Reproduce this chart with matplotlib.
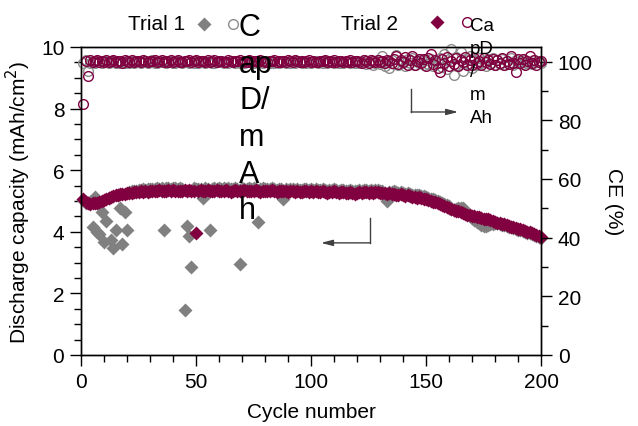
import numpy as np
import matplotlib
matplotlib.use("Agg")
import matplotlib.pyplot as plt
from matplotlib.lines import Line2D
from matplotlib.ticker import MultipleLocator

plt.rcParams['font.family'] = ['Liberation Sans', 'DejaVu Sans']

GREY = '#808080'
MAROON = '#800040'

cycles = np.arange(1, 201)

# Trial 1 discharge capacity (mAh/cm2)
cap_trial1 = [
    5.02, 4.95, 4.93, 4.97, 4.15, 5.12, 3.98, 3.93, 4.65, 3.66,
    4.34, 5.10, 3.74, 3.46, 4.06, 5.18, 4.77, 3.60, 4.65, 4.06,
    5.30, 5.32, 5.34, 5.33, 5.36, 5.35, 5.38, 5.37, 5.39, 5.38,
    5.40, 5.39, 5.41, 5.40, 5.42, 4.06, 5.41, 5.43, 5.40, 5.42,
    5.41, 5.39, 5.42, 5.40, 1.46, 4.20, 3.85, 2.85, 5.41, 5.39,
    5.40, 5.38, 5.10, 5.41, 5.39, 4.06, 5.40, 5.42, 5.39, 5.41,
    5.40, 5.42, 5.39, 5.41, 5.38, 5.40, 5.42, 5.39, 2.95, 5.41,
    5.40, 5.38, 5.41, 5.39, 5.42, 5.40, 4.33, 5.38, 5.41, 5.39,
    5.40, 5.38, 5.41, 5.39, 5.37, 5.40, 5.38, 5.05, 5.39, 5.37,
    5.40, 5.38, 5.36, 5.39, 5.37, 5.35, 5.38, 5.40, 5.37, 5.39,
    5.36, 5.38, 5.35, 5.37, 5.39, 5.36, 5.34, 5.37, 5.35, 5.38,
    5.36, 5.33, 5.35, 5.37, 5.34, 5.32, 5.35, 5.33, 5.31, 5.34,
    5.36, 5.33, 5.35, 5.37, 5.34, 5.36, 5.33, 5.35, 5.37, 5.34,
    5.32, 5.20, 4.99, 5.28, 5.30, 5.31, 5.28, 5.26, 5.29, 5.25,
    5.23, 5.25, 5.22, 5.20, 5.21, 5.18, 5.19, 5.16, 5.15, 5.13,
    5.11, 5.08, 5.05, 5.02, 4.99, 4.96, 4.92, 4.89, 4.86, 4.83,
    4.74, 4.72, 4.73, 4.76, 4.78, 4.76, 4.68, 4.60, 4.52, 4.45,
    4.38, 4.32, 4.27, 4.23, 4.20, 4.20, 4.22, 4.24, 4.26, 4.27,
    4.27, 4.25, 4.22, 4.23, 4.19, 4.16, 4.14, 4.12, 4.09, 4.07,
    4.05, 4.03, 4.00, 3.97, 3.95, 3.92, 3.89, 3.87, 3.84, 3.80,
]

# Trial 2 discharge capacity (mAh/cm2)
cap_trial2 = [
    5.06, 4.98, 4.92, 4.90, 4.93, 4.95, 4.92, 4.97, 5.00, 5.02,
    5.06, 5.10, 5.12, 5.15, 5.20, 5.18, 5.22, 5.24, 5.22, 5.26,
    5.27, 5.25, 5.29, 5.30, 5.28, 5.31, 5.30, 5.32, 5.30, 5.33,
    5.32, 5.34, 5.31, 5.35, 5.33, 5.32, 5.34, 5.36, 5.33, 5.35,
    5.33, 5.31, 5.34, 5.32, 5.35, 5.33, 5.36, 5.34, 5.32, 3.96,
    5.33, 5.35, 5.32, 5.34, 5.36, 5.33, 5.31, 5.34, 5.35, 5.32,
    5.34, 5.33, 5.35, 5.32, 5.30, 5.33, 5.35, 5.34, 5.32, 5.34,
    5.36, 5.33, 5.31, 5.34, 5.32, 5.35, 5.33, 5.30, 5.32, 5.34,
    5.31, 5.33, 5.35, 5.32, 5.30, 5.33, 5.31, 5.34, 5.32, 5.30,
    5.33, 5.31, 5.29, 5.32, 5.30, 5.28, 5.31, 5.33, 5.30, 5.32,
    5.29, 5.31, 5.28, 5.30, 5.32, 5.29, 5.27, 5.30, 5.28, 5.31,
    5.29, 5.26, 5.28, 5.30, 5.27, 5.25, 5.28, 5.26, 5.24, 5.27,
    5.29, 5.26, 5.28, 5.30, 5.27, 5.29, 5.26, 5.28, 5.30, 5.27,
    5.25, 5.27, 5.24, 5.26, 5.22, 5.24, 5.21, 5.19, 5.22, 5.18,
    5.16, 5.18, 5.15, 5.13, 5.14, 5.11, 5.12, 5.09, 5.08, 5.06,
    5.04, 5.01, 4.98, 4.96, 4.93, 4.90, 4.86, 4.83, 4.80, 4.77,
    4.74, 4.72, 4.68, 4.66, 4.64, 4.61, 4.59, 4.56, 4.54, 4.52,
    4.50, 4.47, 4.49, 4.45, 4.42, 4.40, 4.41, 4.37, 4.34, 4.31,
    4.30, 4.28, 4.25, 4.26, 4.22, 4.19, 4.17, 4.15, 4.12, 4.10,
    4.08, 4.06, 4.03, 4.00, 3.98, 3.95, 3.92, 3.90, 3.86, 3.82,
]

# Trial 1 coulombic efficiency (%)
ce_trial1 = [
    99.5, 100.5, 96.8, 99.6, 100.1, 99.4, 99.8, 100.2, 99.5, 99.9,
    100.3, 99.6, 99.8, 100.1, 99.4, 99.7, 100.2, 99.9, 99.5, 100.0,
    99.7, 100.3, 99.6, 99.9, 100.1, 99.5, 99.8, 100.2, 99.6, 99.9,
    100.4, 99.7, 99.5, 100.0, 99.8, 100.2, 99.6, 99.9, 100.3, 99.7,
    99.5, 100.1, 99.8, 99.6, 100.2, 99.9, 99.4, 100.0, 99.7, 100.3,
    99.6, 99.9, 100.1, 99.5, 99.8, 100.2, 99.7, 99.4, 100.0, 99.8,
    100.3, 99.6, 99.9, 99.5, 100.1, 99.8, 99.6, 100.2, 99.7, 99.9,
    99.5, 100.0, 99.8, 100.3, 99.6, 99.9, 99.7, 100.1, 99.5, 99.8,
    100.2, 99.6, 99.9, 99.7, 100.0, 99.4, 99.8, 100.3, 99.6, 99.9,
    99.7, 100.1, 99.5, 99.8, 100.2, 99.6, 99.9, 99.7, 100.0, 99.5,
    99.8, 100.3, 99.6, 99.9, 99.7, 100.1, 99.5, 99.8, 100.2, 99.6,
    99.9, 99.7, 100.0, 99.4, 99.8, 100.2, 99.6, 99.9, 99.7, 100.1,
    99.5, 99.8, 100.4, 99.2, 99.9, 100.5, 98.9, 99.7, 100.6, 99.3,
    101.8, 98.4, 99.9, 97.8, 100.7, 99.1, 102.2, 98.8, 100.3, 99.5,
    98.6, 100.8, 99.4, 101.2, 98.9, 100.1, 99.6, 101.0, 98.7, 100.4,
    99.2, 100.9, 98.5, 100.2, 99.7, 101.4, 98.3, 102.5, 97.6, 100.8,
    104.4, 95.6, 101.6, 98.7, 103.2, 96.8, 100.9, 99.1, 102.0, 97.9,
    100.6, 98.9, 101.3, 99.4, 100.2, 98.6, 100.9, 99.7, 101.1, 99.0,
    100.4, 99.3, 100.8, 98.9, 100.1, 99.6, 101.2, 99.0, 100.5, 99.4,
    100.2, 99.1, 100.7, 99.5, 100.0, 99.3, 100.6, 99.8, 100.1, 99.6,
]

# Trial 2 coulombic efficiency (%)
ce_trial2 = [
    85.7, 100.1, 95.1, 100.4, 99.8, 100.2, 100.5, 99.9, 100.3, 100.0,
    100.4, 99.8, 100.2, 100.6, 99.9, 100.3, 100.1, 99.7, 100.4, 100.2,
    100.0, 100.5, 99.8, 100.3, 100.1, 99.9, 100.4, 100.2, 99.8, 100.3,
    100.1, 100.5, 99.9, 100.2, 100.4, 99.8, 100.3, 100.0, 100.5, 99.9,
    100.2, 100.4, 100.0, 99.8, 100.3, 100.1, 100.5, 99.9, 100.2, 100.4,
    99.8, 100.3, 100.1, 100.0, 100.4, 99.9, 100.2, 100.5, 99.8, 100.1,
    100.3, 100.0, 99.9, 100.4, 100.2, 99.8, 100.1, 100.3, 100.5, 99.9,
    100.2, 100.0, 100.4, 99.8, 100.3, 100.1, 99.9, 100.5, 100.2, 100.0,
    99.8, 100.3, 100.1, 100.4, 99.9, 100.2, 100.0, 100.3, 99.8, 100.5,
    100.1, 99.9, 100.4, 100.2, 99.8, 100.3, 100.0, 100.1, 100.4, 99.9,
    100.2, 100.0, 99.8, 100.3, 100.1, 100.5, 99.9, 100.2, 100.0, 100.4,
    99.8, 100.1, 100.3, 99.9, 100.2, 100.0, 100.4, 99.8, 100.1, 100.3,
    100.0, 99.7, 100.5, 100.1, 99.6, 100.4, 100.2, 99.9, 100.6, 99.8,
    100.3, 99.5, 100.7, 100.1, 99.4, 100.9, 101.8, 99.2, 100.4, 99.8,
    101.5, 99.0, 100.6, 102.1, 98.9, 100.2, 101.0, 99.4, 100.8, 98.6,
    101.4, 102.7, 99.3, 100.5, 97.9, 96.5, 100.9, 99.6, 101.6, 98.4,
    100.3, 99.1, 101.2, 98.5, 100.7, 99.8, 101.5, 99.0, 100.4, 98.8,
    101.1, 99.5, 100.2, 98.7, 101.3, 99.9, 100.6, 99.2, 101.0, 98.9,
    100.5, 99.7, 101.4, 98.8, 100.2, 99.3, 101.9, 99.6, 96.5, 100.8,
    99.4, 101.0, 98.9, 100.3, 102.0, 99.5, 100.6, 98.7, 99.8, 100.3,
]

fig = plt.figure(figsize=(6.38, 4.27), dpi=100)
ax = fig.add_axes([0.127, 0.1663, 0.721, 0.7213])
ax2 = ax.twinx()

# capacity (left axis)
ax.plot(cycles, cap_trial1, ls='none', marker='D', ms=7.5, color=GREY, mec='none', clip_on=False)
ax.plot(cycles, cap_trial2, ls='none', marker='D', ms=7.5, color=MAROON, mec='none', clip_on=False)

# coulombic efficiency (right axis)
ax2.plot(cycles, ce_trial1, ls='none', marker='o', ms=7, mfc='none', mec='#8c8c8c', mew=1.0, clip_on=False)
ax2.plot(cycles, ce_trial2, ls='none', marker='o', ms=7, mfc='none', mec=MAROON, mew=1.0, clip_on=False)

ax.set_xlim(0, 200)
ax.set_ylim(0, 10)
ax2.set_ylim(0, 105)

ax.xaxis.set_major_locator(MultipleLocator(50))
ax.xaxis.set_minor_locator(MultipleLocator(10))
ax.yaxis.set_major_locator(MultipleLocator(2))
ax.yaxis.set_minor_locator(MultipleLocator(0.5))
ax2.yaxis.set_major_locator(MultipleLocator(20))
ax2.yaxis.set_minor_locator(MultipleLocator(10))

for a in (ax, ax2):
    a.tick_params(which='major', direction='out', length=8, width=1, labelsize=15, pad=4)
    a.tick_params(which='minor', direction='out', length=5, width=1)
    for s in a.spines.values():
        s.set_linewidth(1)
ax.tick_params(top=False, right=False, which='both')

ax.set_xlabel('Cycle number', fontsize=15, labelpad=8)
ax.set_ylabel('Discharge capacity (mAh/cm$^2$)', fontsize=15, labelpad=6)
ax2.set_ylabel('CE (%)', fontsize=15, rotation=270, labelpad=22)

# direction arrows
ax.plot([143.5, 143.5], [8.64, 7.89], color='#404040', lw=1)
ax.annotate('', xy=(164, 7.89), xytext=(143.5, 7.89),
            arrowprops=dict(arrowstyle='-|>,head_length=0.7,head_width=0.18',
                            color='#404040', lw=1, shrinkA=0, shrinkB=0))
ax.plot([125.6, 125.6], [4.45, 3.64], color='#404040', lw=1)
ax.annotate('', xy=(104.3, 3.64), xytext=(125.6, 3.64),
            arrowprops=dict(arrowstyle='-|>,head_length=0.7,head_width=0.18',
                            color='#404040', lw=1, shrinkA=0, shrinkB=0))

# legend drawn by hand in figure pixels
W, H = 638.0, 427.0
def fx(px):
    return px / W
def fy(py):
    return 1 - py / H

fig.text(fx(128), fy(25), 'Trial 1', fontsize=15, va='center', ha='left')
fig.text(fx(341), fy(25), 'Trial 2', fontsize=15, va='center', ha='left')
fig.add_artist(Line2D([fx(204)], [fy(25)], marker='D', ms=7, color=GREY, mec='none', ls='none'))
fig.add_artist(Line2D([fx(233)], [fy(25)], marker='o', ms=7, mfc='none', mec='#8c8c8c', mew=1.0, ls='none'))
fig.add_artist(Line2D([fx(437)], [fy(23)], marker='D', ms=7, color=MAROON, mec='none', ls='none'))
fig.add_artist(Line2D([fx(467)], [fy(23)], marker='o', ms=7, mfc='none', mec=MAROON, mew=1.0, ls='none'))
fig.text(fx(239), fy(13), 'C\nap\nD/\nm\nA\nh', fontsize=22, va='top', ha='left', linespacing=1.29)
fig.text(fx(470), fy(18), 'Ca\npD\n/\nm\nAh', fontsize=13.5, va='top', ha='left', linespacing=1.46)

fig.savefig('out.png', dpi=100)
